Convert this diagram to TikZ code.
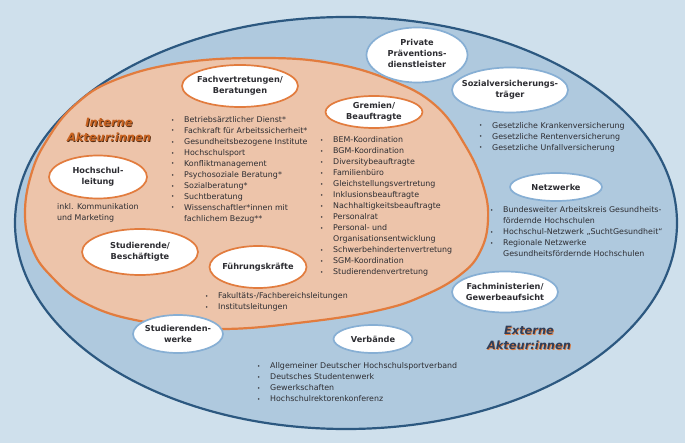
\documentclass[tikz,border=0pt]{standalone}
\usepackage{fontspec}
\setmainfont{DejaVu Sans}
\usetikzlibrary{shapes.geometric}
\definecolor{sky}{RGB}{207,224,236}
\definecolor{sea}{RGB}{175,201,222}
\definecolor{navy}{RGB}{44,88,128}
\definecolor{peach}{RGB}{237,196,170}
\definecolor{rust}{RGB}{226,124,62}
\definecolor{ice}{RGB}{135,175,212}
\definecolor{ink}{RGB}{45,45,50}
\definecolor{clay}{RGB}{200,98,32}
\definecolor{umber}{RGB}{85,45,20}
\definecolor{slate}{RGB}{48,62,88}
\newcommand{\listdot}{\makebox[13pt][l]{\raisebox{0.6pt}{\scalebox{0.7}{\textbullet}}}}
\newcommand{\listgap}{\hspace*{13pt}}
\tikzset{
  actor/.style={ellipse,fill=white,draw=#1,line width=1.7pt,inner sep=0pt},
  actor/.default=rust,
  tag/.style={font=\fontsize{8.2}{11}\selectfont\bfseries,text=ink,align=center,inner sep=0pt},
  bullets/.style={font=\fontsize{7.9}{11}\selectfont,text=ink,align=left,inner sep=0pt,anchor=north west},
  realm/.style={font=\fontsize{11.4}{15}\selectfont\bfseries\itshape,align=center,inner sep=0pt,text=#1},
}
\begin{document}
\begin{tikzpicture}[x=1pt,y=-1pt]
  \fill[sky] (0,0) rectangle (685,443);
  \useasboundingbox (0,0) rectangle (685,443);
  % external ring
  \draw[navy,line width=2.2pt,fill=sea] (346,223) ellipse [x radius=331pt,y radius=206pt];
  % internal area
  \draw[rust,line width=2.2pt,fill=peach] plot[smooth cycle,tension=0.7] coordinates {
    (260,58) (330,63) (390,80) (435,105) (465,145) (483,185) (488,220) (480,252)
    (460,275) (425,295) (380,310) (306,322) (218,329) (140,321) (85,303) (50,275)
    (32,248) (25,215) (31,175) (47,140) (75,105) (115,80) (180,63)};

  % internal actors
  \node[realm=umber] (intshadow) at (109.8,130.8) {Interne\\Akteur:innen};
  \node[realm=clay] (interne) at (109,130) {Interne\\Akteur:innen};
  \node[actor,minimum width=116pt,minimum height=42pt,
    label={[tag,yshift=0.5pt]center:Fachvertretungen/\\Beratungen}] (fv) at (240,86) {};
  \node[actor,minimum width=97pt,minimum height=32pt,
    label={[tag,yshift=0.5pt]center:Gremien/\\Beauftragte}] (grem) at (374,112) {};
  \node[actor,minimum width=98pt,minimum height=43pt,
    label={[tag]center:Hochschul-\\leitung}] (hsl) at (98,177) {};
  \node[actor,minimum width=116pt,minimum height=46pt,
    label={[tag,yshift=0.5pt]center:Studierende/\\Beschäftigte}] (stud) at (140,252) {};
  \node[actor,minimum width=97pt,minimum height=42pt,
    label={[tag]center:Führungskräfte}] (fkr) at (258,267) {};

  \node[bullets] (fvlist) at (171,116.4) {\listdot Betriebsärztlicher Dienst*\\
    \listdot Fachkraft für Arbeitssicherheit*\\
    \listdot Gesundheitsbezogene Institute\\
    \listdot Hochschulsport\\
    \listdot Konfliktmanagement\\
    \listdot Psychosoziale Beratung*\\
    \listdot Sozialberatung*\\
    \listdot Suchtberatung\\
    \listdot Wissenschaftler*innen mit\\
    \listgap fachlichem Bezug**};
  \node[bullets] (gremlist) at (320,136.4) {\listdot BEM-Koordination\\
    \listdot BGM-Koordination\\
    \listdot Diversitybeauftragte\\
    \listdot Familienbüro\\
    \listdot Gleichstellungsvertretung\\
    \listdot Inklusionsbeauftragte\\
    \listdot Nachhaltigkeitsbeauftragte\\
    \listdot Personalrat\\
    \listdot Personal- und\\
    \listgap Organisationsentwicklung\\
    \listdot Schwerbehindertenvertretung\\
    \listdot SGM-Koordination\\
    \listdot Studierendenvertretung};
  \node[bullets] (hsllist) at (57,203.4) {inkl. Kommunikation\\und Marketing};
  \node[bullets] (fkrlist) at (205,292.4) {\listdot Fakultäts-/Fachbereichsleitungen\\
    \listdot Institutsleitungen};

  % external actors
  \node[actor=ice,minimum width=101pt,minimum height=55pt,
    label={[tag,yshift=2pt]center:Private\\Präventions-\\dienstleister}] (priv) at (417,55) {};
  \node[actor=ice,minimum width=116pt,minimum height=45pt,
    label={[tag]center:Sozialversicherungs-\\träger}] (svt) at (510,90) {};
  \node[actor=ice,minimum width=92pt,minimum height=28pt,
    label={[tag]center:Netzwerke}] (netz) at (556,187) {};
  \node[actor=ice,minimum width=106pt,minimum height=41pt,
    label={[tag]center:Fachministerien/\\Gewerbeaufsicht}] (fmin) at (505,292) {};
  \node[actor=ice,minimum width=79pt,minimum height=28pt,
    label={[tag]center:Verbände}] (verb) at (373,339) {};
  \node[actor=ice,minimum width=90pt,minimum height=38pt,
    label={[tag]center:Studierenden-\\werke}] (swerk) at (178,334) {};

  \node[bullets] (svtlist) at (479,122.4) {\listdot Gesetzliche Krankenversicherung\\
    \listdot Gesetzliche Rentenversicherung\\
    \listdot Gesetzliche Unfallversicherung};
  \node[bullets] (netzlist) at (490,206.4) {\listdot Bundesweiter Arbeitskreis Gesundheits-\\
    \listgap fördernde Hochschulen\\
    \listdot Hochschul-Netzwerk „SuchtGesundheit“\\
    \listdot Regionale Netzwerke\\
    \listgap Gesundheitsfördernde Hochschulen};
  \node[bullets] (verblist) at (257,362.4) {\listdot Allgemeiner Deutscher Hochschulsportverband\\
    \listdot Deutsches Studentenwerk\\
    \listdot Gewerkschaften\\
    \listdot Hochschulrektorenkonferenz};

  \node[realm=rust] (extshadow) at (529.8,338.8) {Externe\\Akteur:innen};
  \node[realm=slate] (externe) at (529,338) {Externe\\Akteur:innen};
\end{tikzpicture}
\end{document}
